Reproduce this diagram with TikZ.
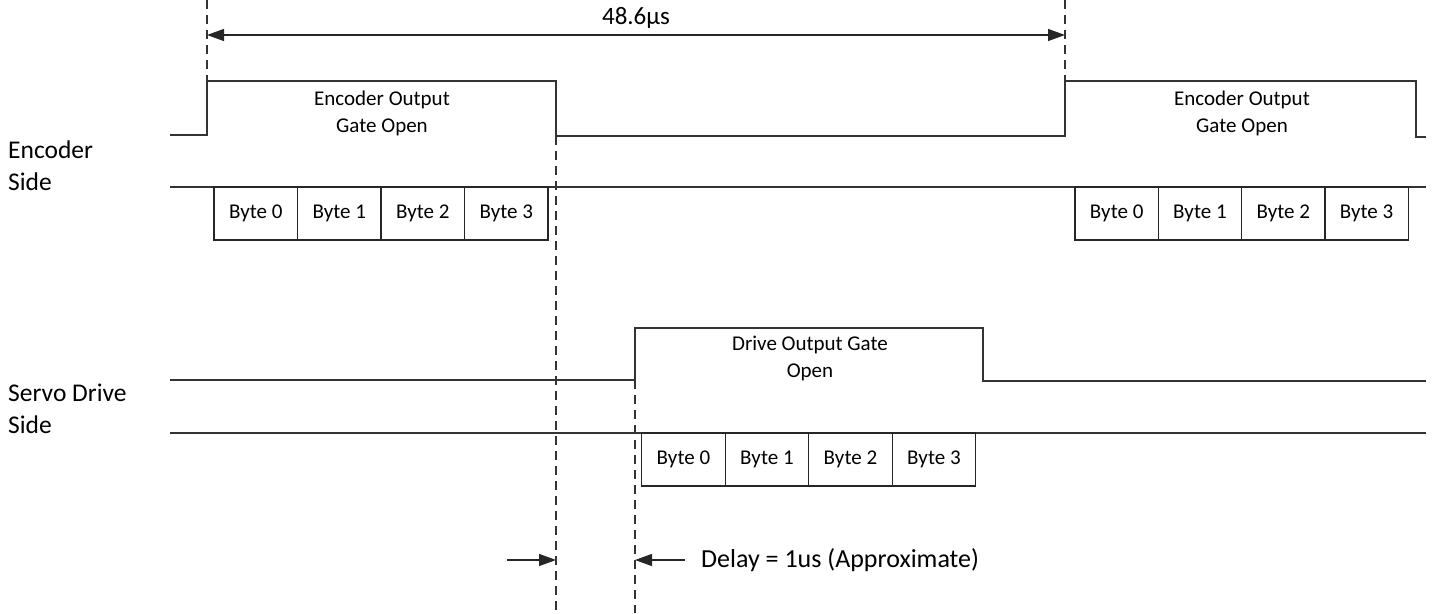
\documentclass[tikz,border=0pt]{standalone}
\usepackage{fontspec}
\setmainfont{Carlito}
\usetikzlibrary{arrows.meta}
\begin{document}
\begin{tikzpicture}[x=1pt,y=-1pt,
  sig/.style={line width=1.4pt, draw=black!80},
  dline/.style={line width=1.1pt, draw=black!80, dash pattern=on 9pt off 6pt},
  bytebox/.style={draw=black!85, line width=1.3pt, minimum width=83.5pt, minimum height=53pt,
    inner sep=0pt, outer sep=0pt, anchor=north west, font=\fontsize{21}{26}\selectfont},
  gatetext/.style={align=center, font=\fontsize{21}{27}\selectfont, inner sep=0pt},
  sidetext/.style={align=left, font=\fontsize{25.5}{32}\selectfont, inner sep=0pt, anchor=west},
  arr/.style={line width=1.3pt, draw=black!85, -{Triangle[length=17pt,width=12pt]}},
  dimarr/.style={line width=1.3pt, draw=black!85, {Triangle[length=17pt,width=12pt]}-{Triangle[length=17pt,width=12pt]}}
]
\useasboundingbox (0,0) rectangle (1432,613);

% side labels
\node[sidetext] (enclbl) at (8,166) {Encoder\\Side};
\node[sidetext] (drvlbl) at (8,409) {Servo Drive\\Side};

% encoder gate signal
\draw[sig] (170,135) -- (207,135) -- (207,81) -- (556,81) -- (556,136) -- (1065,136) -- (1065,81) -- (1416,81) -- (1416,137) -- (1426,137);
\node[gatetext] (eg1) at (382,113.5) {Encoder Output\\Gate Open};
\node[gatetext] (eg2) at (1242,113.5) {Encoder Output\\Gate Open};

% encoder data line
\draw[sig] (170,187) -- (1426,187);
\node[bytebox] (e0) at (214,187) {Byte 0};
\node[bytebox] (e1) at (e0.north east) {Byte 1};
\node[bytebox] (e2) at (e1.north east) {Byte 2};
\node[bytebox] (e3) at (e2.north east) {Byte 3};
\node[bytebox, minimum width=83.3pt] (f0) at (1075,187) {Byte 0};
\node[bytebox, minimum width=83.3pt] (f1) at (f0.north east) {Byte 1};
\node[bytebox, minimum width=83.3pt] (f2) at (f1.north east) {Byte 2};
\node[bytebox, minimum width=83.3pt] (f3) at (f2.north east) {Byte 3};

% drive gate signal
\draw[sig] (170,380) -- (635,380) -- (635,328) -- (983,328) -- (983,381) -- (1426,381);
\node[gatetext] (dg) at (810,358) {Drive Output Gate\\Open};

% drive data line
\draw[sig] (170,433) -- (1426,433);
\node[bytebox] (d0) at (641.7,433) {Byte 0};
\node[bytebox] (d1) at (d0.north east) {Byte 1};
\node[bytebox] (d2) at (d1.north east) {Byte 2};
\node[bytebox] (d3) at (d2.north east) {Byte 3};

% dashed guide lines
\coordinate (t1) at (207,0);
\coordinate (t1b) at (207,81);
\coordinate (t2) at (1065,0);
\coordinate (t2b) at (1065,81);
\coordinate (g1) at (556,136);
\coordinate (g1b) at (556,613);
\coordinate (g2) at (635,380);
\coordinate (g2b) at (635,613);
\draw[dline] (t1) -- (t1b);
\draw[dline] (t2) -- (t2b);
\draw[dline] (g1) -- (g1b);
\draw[dline] (g2) -- (g2b);

% period dimension
\coordinate (p1) at (207,35);
\coordinate (p2) at (1065,35);
\draw[dimarr] (p1) -- (p2);
\node[font=\fontsize{25}{30}\selectfont, inner sep=0pt] (period) at (636,18) {48.6µs};

% delay arrows
\coordinate (da) at (507,560);
\coordinate (dat) at (556,560);
\coordinate (db) at (685,560);
\coordinate (dbt) at (635,560);
\draw[arr] (da) -- (dat);
\draw[arr] (db) -- (dbt);
\node[font=\fontsize{26}{31}\selectfont, inner sep=0pt, anchor=west] (delay) at (701,560) {Delay = 1us (Approximate)};
\end{tikzpicture}
\end{document}
